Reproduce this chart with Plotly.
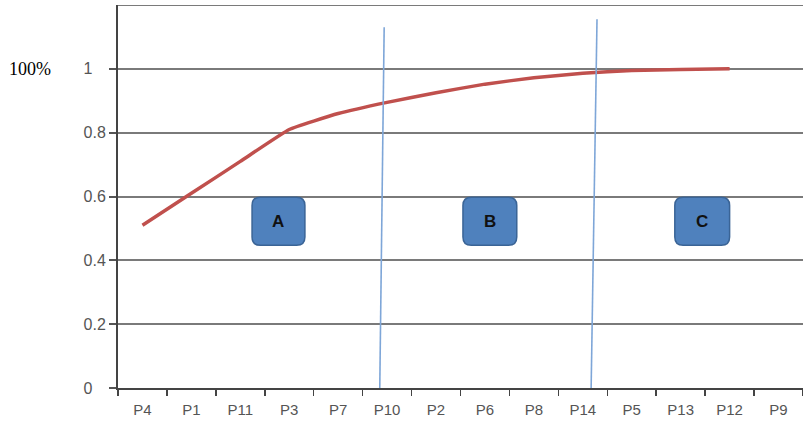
import plotly.graph_objects as go

categories = ["P4", "P1", "P11", "P3", "P7", "P10", "P2", "P6", "P8", "P14", "P5", "P13", "P12", "P9"]
cumulative = [0.51, 0.61, 0.71, 0.81, 0.86, 0.895, 0.925, 0.952, 0.972, 0.986, 0.995, 0.998, 1.0, None]
ytick_vals = [0, 0.2, 0.4, 0.6, 0.8, 1.0]
ytick_text = ["0\u2008\u2007", "0.2", "0.4", "0.6", "0.8", "1\u2008\u2007"]
zone_labels = ["A", "B", "C"]
zone_x = [(2.24, 3.32), (6.55, 7.65), (10.88, 12.0)]
zone_y = (0.447, 0.598)
divider_lines = [((4.94, 1.13), (4.85, 0.0)), ((9.29, 1.155), (9.17, 0.0))]

fig = go.Figure()
fig.add_trace(go.Scatter(
    x=categories, y=cumulative, mode="lines",
    line=dict(color="#c0504d", width=3.5, shape="spline", smoothing=0.35),
    connectgaps=False, hoverinfo="skip", showlegend=False,
))

shapes = [dict(type="line", xref="paper", yref="y", x0=0, x1=1, y0=1.2, y1=1.2,
               line=dict(color="#7a7a7a", width=2), layer="below")]
for (x0, y0), (x1, y1) in divider_lines:
    shapes.append(dict(type="line", xref="x", yref="y", x0=x0, y0=y0, x1=x1, y1=y1,
                       line=dict(color="#7ea6d8", width=1.6), layer="above"))

rx, ry = 0.17, 0.026
annotations = []
for lab, (x0, x1) in zip(zone_labels, zone_x):
    y0, y1 = zone_y
    path = (f"M {x0+rx},{y0} L {x1-rx},{y0} Q {x1},{y0} {x1},{y0+ry} "
            f"L {x1},{y1-ry} Q {x1},{y1} {x1-rx},{y1} L {x0+rx},{y1} "
            f"Q {x0},{y1} {x0},{y1-ry} L {x0},{y0+ry} Q {x0},{y0} {x0+rx},{y0} Z")
    shapes.append(dict(type="path", xref="x", yref="y", path=path,
                       fillcolor="#4f81bd", line=dict(color="#3a6496", width=1.5), layer="above"))
    annotations.append(dict(x=(x0 + x1) / 2, y=(y0 + y1) / 2, xref="x", yref="y",
                            text=f"<b>{lab}</b>", showarrow=False,
                            font=dict(family="Liberation Sans, Arial", size=17, color="#111111")))

annotations.append(dict(x=(53 - 118) / 685, y=1.0, xref="paper", yref="y", text="100%", showarrow=False,
                        xanchor="right", yanchor="middle",
                        font=dict(family="Liberation Serif, Times New Roman", size=18, color="#000000")))

fig.update_layout(
    width=803, height=423,
    margin=dict(l=118, r=0, t=5, b=35),
    paper_bgcolor="white", plot_bgcolor="white",
    shapes=shapes, annotations=annotations,
    xaxis=dict(
        type="category", categoryorder="array", categoryarray=categories,
        range=[-0.5, 13.5], showgrid=False, zeroline=False,
        showline=True, linecolor="#444444", linewidth=2,
        ticks="outside", tickson="boundaries", ticklen=6, tickwidth=1.5, tickcolor="#444444",
        tickfont=dict(family="Liberation Sans, Arial", size=15, color="#555555"),
        ticklabelstandoff=7,
        fixedrange=True,
    ),
    yaxis=dict(
        range=[0, 1.2], tickvals=ytick_vals, ticktext=ytick_text,
        showgrid=True, gridcolor="#7a7a7a", gridwidth=2, zeroline=False,
        showline=True, linecolor="#444444", linewidth=2,
        ticks="outside", ticklen=7, tickwidth=2, tickcolor="#555555",
        tickfont=dict(family="Liberation Sans, Arial", size=16, color="#555555"),
        fixedrange=True,
    ),
)

fig.write_html("out.html", config={"displayModeBar": False, "staticPlot": True})
with open("out.html", "r", encoding="utf-8") as f:
    html = f.read()
html = html.replace("<body>", '<body style="margin:0;padding:0;">', 1)
html = html.replace("<head>", '<head><style>html,body{margin:0;padding:0;overflow:hidden;}</style>', 1)
with open("out.html", "w", encoding="utf-8") as f:
    f.write(html)
